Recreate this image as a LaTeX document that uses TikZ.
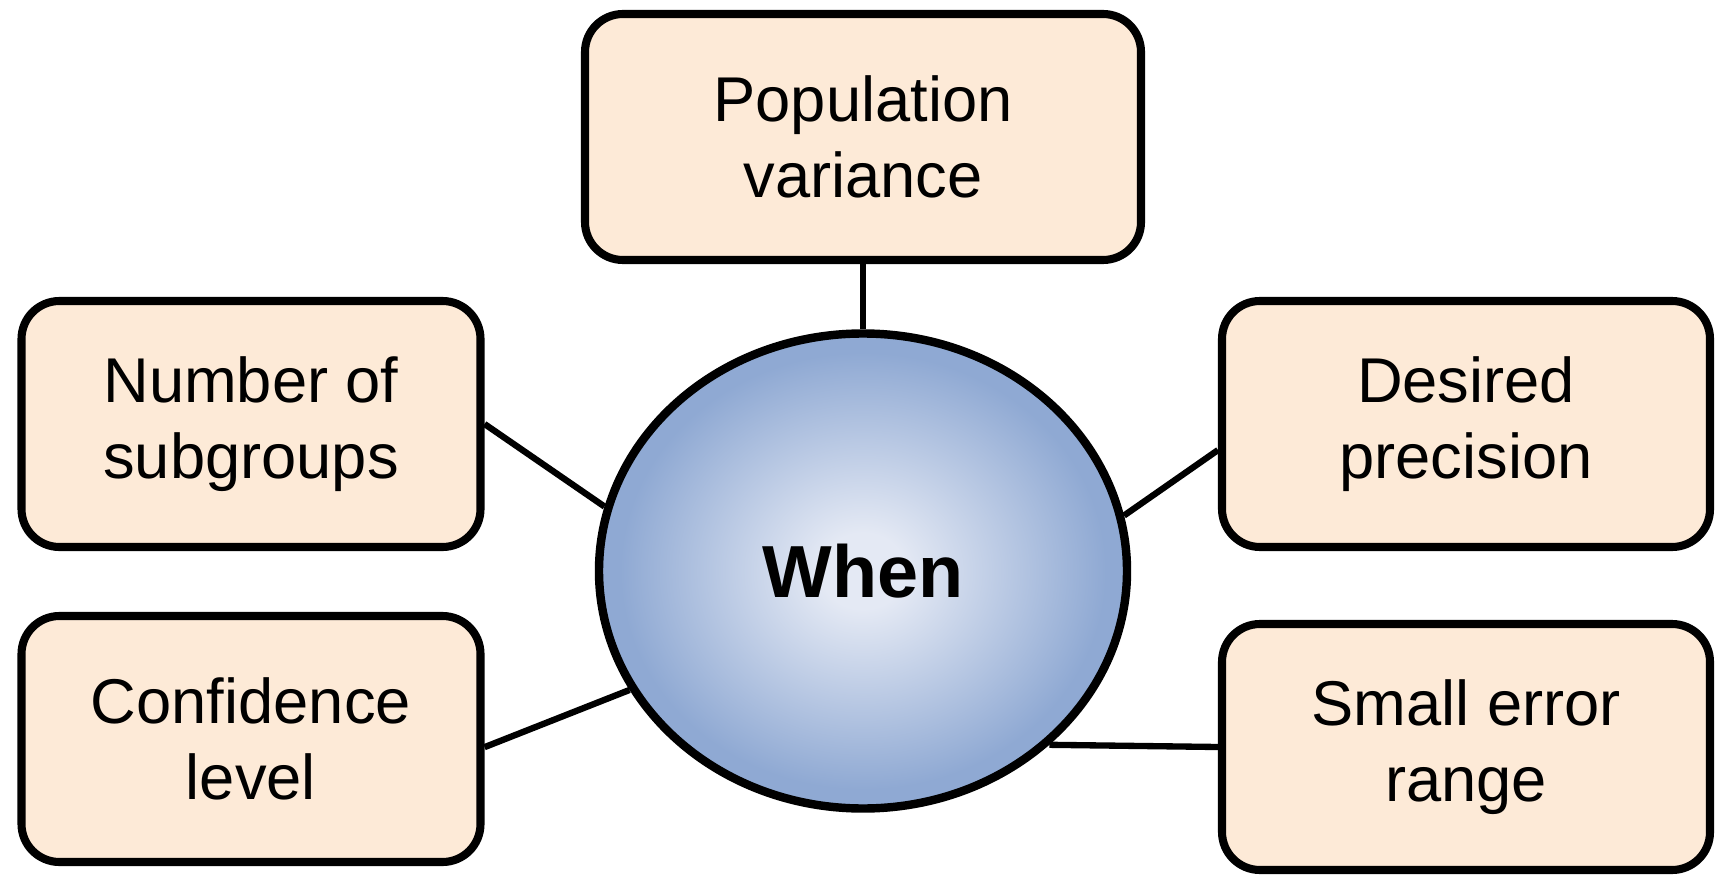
\documentclass[tikz,border=0pt]{standalone}
\usepackage{fontspec}
\setmainfont{Liberation Sans}
\usepackage{tikz}
\usetikzlibrary{positioning,shapes.geometric}
\usepackage{xcolor}
\definecolor{peach}{HTML}{FDEAD7}
\definecolor{bluein}{HTML}{E4E9F4}
\definecolor{blueout}{HTML}{8FA9D3}
\pgfdeclareradialshading{whenshade}{\pgfpoint{0bp}{0bp}}{color(0bp)=(bluein); color(4bp)=(bluein); color(23bp)=(blueout); color(50bp)=(blueout)}

\begin{document}
\begin{tikzpicture}[
    factor/.style={draw=black, line width=2.3pt, fill=peach, rounded corners=0.38cm,
      minimum height=2.46cm, align=center, inner sep=0pt,
      font=\fontsize{18}{21.8}\selectfont},
    hub/.style={ellipse, draw=black, line width=2.4pt, shading=whenshade,
      minimum width=5.28cm, minimum height=4.75cm, inner sep=0pt,
      font=\fontsize{21}{24}\selectfont\bfseries},
    link/.style={draw=black, line width=1.8pt}]
    \useasboundingbox (0,0) rectangle (17.15,8.77);
    % centre
    \node[hub] (when) at (8.63,3.06) {When};
    % factors round it
    \node[factor, minimum width=5.56cm] (pop) at (8.63,7.40) {Population\\variance};
    \node[factor, minimum width=4.59cm] (subg) at (2.51,4.53) {Number of\\subgroups};
    \node[factor, minimum width=4.59cm] (conf) at (2.51,1.38) {Confidence\\level};
    \node[factor, minimum width=4.88cm] (prec) at (14.66,4.53) {Desired\\precision};
    \node[factor, minimum width=4.88cm] (err) at (14.66,1.30) {Small error\\range};
    % links
    \draw[link] (pop.south) -- (when.north);
    \draw[link] (subg.east) -- (when.166);
    \draw[link] (conf.358.5) -- (when.207);
    \draw[link] (prec.186) -- (when.12);
    \draw[link] (err.west) -- (when.317);
  \end{tikzpicture}
\end{document}
